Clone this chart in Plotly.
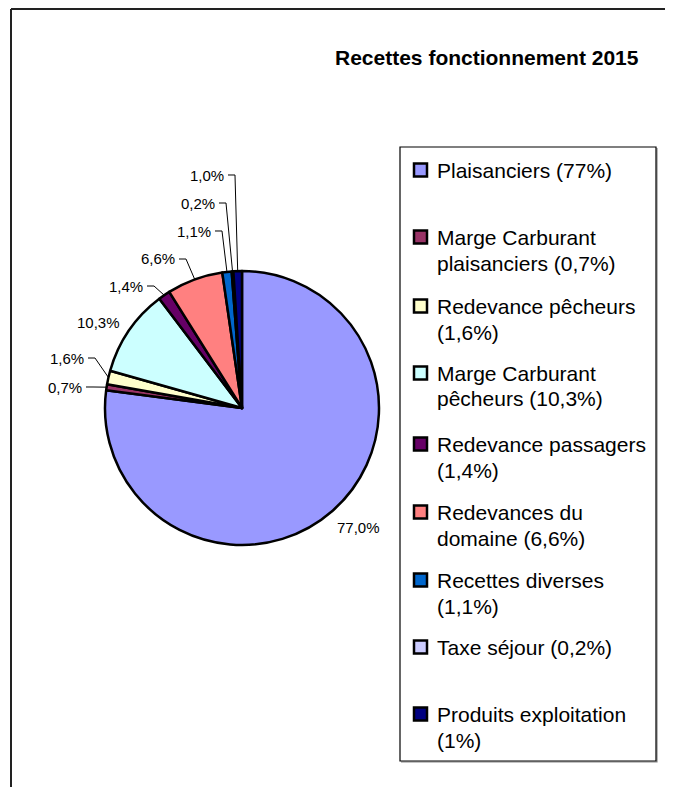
import math
import plotly.graph_objects as go

# page body has an 8px margin: figure is drawn 8px in from the window edge
OFF = 8
W, H = 673 - OFF, 787 - OFF

# ---------------- data ----------------
categories = [
    "Plaisanciers", "Marge Carburant plaisanciers", "Redevance pêcheurs",
    "Marge Carburant pêcheurs", "Redevance passagers", "Redevances du domaine",
    "Recettes diverses", "Taxe séjour", "Produits exploitation",
]
values = [77.0, 0.7, 1.6, 10.3, 1.4, 6.6, 1.1, 0.2, 1.0]
legend_labels = [
    "Plaisanciers (77%)",
    "Marge Carburant<br>plaisanciers (0,7%)",
    "Redevance pêcheurs<br>(1,6%)",
    "Marge Carburant<br>pêcheurs (10,3%)",
    "Redevance passagers<br>(1,4%)",
    "Redevances du<br>domaine (6,6%)",
    "Recettes diverses<br>(1,1%)",
    "Taxe séjour (0,2%)",
    "Produits exploitation<br>(1%)",
]
colors = ["#9999FF", "#993366", "#FFFFCC", "#CCFFFF", "#660066",
          "#FF8080", "#0066CC", "#CCCCFF", "#000080"]
title_text = "Recettes fonctionnement 2015"

# ---------------- layout constants (window pixels) ----------------
CX, CY, R = 242, 408, 137
FONT = "Liberation Sans, Arial, sans-serif"
label_layout = [
    (382, 527, False),
    (84, 387, True),
    (86, 358, True),
    (122, 322, False),
    (145, 286, True),
    (177, 259, True),
    (213, 231, True),
    (217, 203, True),
    (226, 175, True),
]
legend_box = (400, 147, 656, 761)
legend_first_line_y = [170, 237, 306, 373, 444, 512, 580, 647, 714]
legend_line_step = 26
legend_sq_x = 414
legend_sq = 13
legend_text_x = 435
frame_x, frame_y = 11, 9


def px(x):
    return (x - OFF) / W


def py(y):
    return 1 - (y - OFF) / H


fig = go.Figure()
fig.add_trace(go.Pie(
    labels=categories,
    values=values,
    sort=False,
    direction="clockwise",
    rotation=0,
    textinfo="none",
    hoverinfo="label+percent",
    marker=dict(colors=colors, line=dict(color="black", width=2.5)),
    domain=dict(x=[px(CX - R), px(CX + R)], y=[py(CY + R), py(CY - R)]),
    showlegend=False,
))

shapes = []
annotations = []

# outer frame (top and left edges visible)
shapes.append(dict(type="line", xref="paper", yref="paper",
                   x0=px(frame_x), y0=py(frame_y), x1=1.0, y1=py(frame_y),
                   line=dict(color="#222222", width=2)))
shapes.append(dict(type="line", xref="paper", yref="paper",
                   x0=px(frame_x), y0=py(frame_y), x1=px(frame_x), y1=0.0,
                   line=dict(color="#222222", width=2)))

# title
annotations.append(dict(text="<b>%s</b>" % title_text, xref="paper", yref="paper",
                        x=px(487), y=py(58), xanchor="center", yanchor="middle",
                        showarrow=False, font=dict(family=FONT, size=21, color="black")))

# data labels with leader lines
total = sum(values)
cum = 0.0
for v, (tx, ty, leader) in zip(values, label_layout):
    mid = (cum + v / 2) / total * 2 * math.pi
    cum += v
    ex = CX + R * math.sin(mid)
    ey = CY - R * math.cos(mid)
    txt = ("%.1f" % v).replace(".", ",") + "%"
    annotations.append(dict(text=txt, xref="paper", yref="paper",
                            x=px(tx), y=py(ty), xanchor="right", yanchor="middle",
                            showarrow=False,
                            font=dict(family=FONT, size=15, color="black")))
    if leader:
        hx = min(tx + 9, ex - 1) if ex > tx + 9 else tx + 2
        path = "M %f,%f L %f,%f L %f,%f" % (
            px(tx + 2), py(ty), px(hx), py(ty), px(ex), py(ey))
        shapes.append(dict(type="path", xref="paper", yref="paper", path=path,
                           line=dict(color="black", width=1)))

# legend box (with a light shadow on right/bottom)
lx0, ly0, lx1, ly1 = legend_box
shapes.append(dict(type="path", xref="paper", yref="paper",
                   path="M %f,%f L %f,%f L %f,%f" % (px(lx1 + 1), py(ly0 + 1),
                                                     px(lx1 + 1), py(ly1 + 1),
                                                     px(lx0 + 1), py(ly1 + 1)),
                   line=dict(color="#888888", width=1.2)))
shapes.append(dict(type="rect", xref="paper", yref="paper",
                   x0=px(lx0), y0=py(ly0), x1=px(lx1), y1=py(ly1),
                   line=dict(color="black", width=1.2)))
for lab, col, y0 in zip(legend_labels, colors, legend_first_line_y):
    shapes.append(dict(type="rect", xref="paper", yref="paper",
                       x0=px(legend_sq_x), y0=py(y0 - legend_sq / 2),
                       x1=px(legend_sq_x + legend_sq), y1=py(y0 + legend_sq / 2),
                       fillcolor=col, line=dict(color="black", width=2.5)))
    for i, line in enumerate(lab.split("<br>")):
        annotations.append(dict(text=line, xref="paper", yref="paper",
                                x=px(legend_text_x), y=py(y0 + i * legend_line_step),
                                xanchor="left", yanchor="middle", showarrow=False,
                                font=dict(family=FONT, size=21, color="black")))

fig.update_layout(
    width=W, height=H,
    margin=dict(l=0, r=0, t=0, b=0),
    paper_bgcolor="white", plot_bgcolor="white",
    shapes=shapes, annotations=annotations,
    showlegend=False,
)
fig.write_html("out.html")
